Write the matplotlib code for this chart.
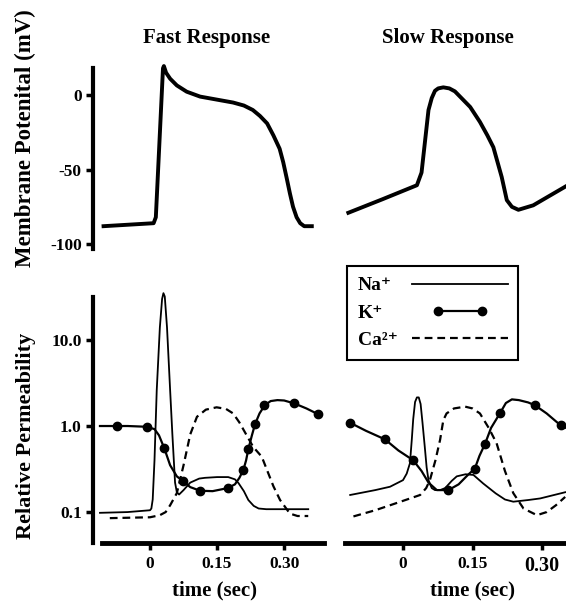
import numpy as np
import matplotlib
matplotlib.use('Agg')
import matplotlib.pyplot as plt
from matplotlib.lines import Line2D
from matplotlib.legend_handler import HandlerLine2D

plt.rcParams['font.family'] = ['Liberation Serif', 'DejaVu Serif']
plt.rcParams['font.weight'] = 'bold'
plt.rcParams['axes.titleweight'] = 'bold'
plt.rcParams['axes.labelweight'] = 'bold'

# ---- membrane potential (mV) vs time (s) ----
fast_ap_t = [-0.104, 0.008, 0.013, 0.029, 0.031, 0.036, 0.045, 0.060, 0.082, 0.112, 0.149,
             0.186, 0.210, 0.230, 0.246, 0.262, 0.276, 0.290, 0.298, 0.306, 0.313, 0.320,
             0.328, 0.336, 0.345, 0.362]
fast_ap_v = [-88, -86, -82, 18, 19.5, 15, 11, 6.5, 2.3, -1, -3,
             -5, -7, -10, -14, -19, -27, -36, -45, -56, -66, -75,
             -82, -86, -88, -88]

slow_ap_t = [-0.118, -0.045, 0.030, 0.040, 0.055, 0.062, 0.069, 0.076, 0.087, 0.100, 0.112,
             0.123, 0.145, 0.166, 0.182, 0.195, 0.213, 0.224, 0.235, 0.249, 0.281, 0.350]
slow_ap_v = [-79, -70, -60.5, -52, -10, -2, 2.9, 4.5, 5.2, 4.5, 2.5,
             -1, -8, -18, -27, -35, -55, -70.5, -75, -77, -74, -61.5]

# ---- relative permeability, fast response ----
na_fast_t = [-0.112, -0.05, 0.0, 0.003, 0.006, 0.010, 0.015, 0.022, 0.027, 0.030, 0.033,
             0.038, 0.045, 0.050, 0.056, 0.060, 0.065, 0.075, 0.090, 0.110, 0.123, 0.150,
             0.175, 0.190, 0.198, 0.210, 0.220, 0.232, 0.243, 0.260, 0.354]
na_fast_p = [0.098, 0.100, 0.105, 0.11, 0.14, 0.4, 2.6, 14, 30, 35, 32,
             14, 2.6, 0.8, 0.22, 0.17, 0.16, 0.18, 0.22, 0.245, 0.25, 0.255,
             0.255, 0.24, 0.217, 0.175, 0.138, 0.118, 0.11, 0.108, 0.108]

k_fast_t = [-0.112, -0.05, -0.007, 0.010, 0.020, 0.032, 0.045, 0.060, 0.073, 0.090, 0.112,
            0.140, 0.174, 0.190, 0.200, 0.209, 0.215, 0.220, 0.228, 0.235, 0.245, 0.257,
            0.270, 0.285, 0.300, 0.323, 0.350, 0.375]
k_fast_p = [1.0, 1.0, 0.98, 0.92, 0.78, 0.55, 0.35, 0.26, 0.23, 0.195, 0.177,
            0.175, 0.19, 0.21, 0.25, 0.31, 0.40, 0.54, 0.78, 1.05, 1.4, 1.75,
            1.95, 2.0, 1.98, 1.83, 1.6, 1.38]
k_fast_dot_t = [-0.075, -0.007, 0.032, 0.073, 0.112, 0.175, 0.209, 0.220, 0.235, 0.256, 0.323, 0.375]
k_fast_dot_p = [1.0, 0.98, 0.55, 0.23, 0.177, 0.19, 0.31, 0.54, 1.05, 1.75, 1.83, 1.38]

ca_fast_t = [-0.09, 0.0, 0.022, 0.035, 0.045, 0.060, 0.075, 0.090, 0.105, 0.125, 0.149,
             0.170, 0.186, 0.200, 0.215, 0.231, 0.250, 0.276, 0.291, 0.313, 0.330, 0.354]
ca_fast_p = [0.085, 0.087, 0.092, 0.10, 0.12, 0.166, 0.35, 0.8, 1.28, 1.55, 1.65,
             1.58, 1.4, 1.1, 0.8, 0.57, 0.44, 0.2, 0.138, 0.096, 0.09, 0.09]

# ---- relative permeability, slow response ----
na_slow_t = [-0.114, -0.06, -0.028, 0.0, 0.008, 0.015, 0.019, 0.022, 0.026, 0.030, 0.034,
             0.038, 0.042, 0.047, 0.051, 0.055, 0.062, 0.069, 0.080, 0.091, 0.105, 0.116,
             0.135, 0.152, 0.173, 0.200, 0.220, 0.238, 0.270, 0.296, 0.350]
na_slow_p = [0.158, 0.18, 0.197, 0.235, 0.28, 0.37, 0.7, 1.2, 1.9, 2.15, 2.15,
             1.8, 1.1, 0.57, 0.33, 0.235, 0.19, 0.18, 0.18, 0.19, 0.23, 0.26,
             0.275, 0.27, 0.215, 0.165, 0.14, 0.132, 0.138, 0.144, 0.17]

k_slow_t = [-0.114, -0.08, -0.039, -0.01, 0.022, 0.040, 0.055, 0.073, 0.098, 0.120, 0.140,
            0.155, 0.165, 0.177, 0.190, 0.209, 0.222, 0.235, 0.250, 0.270, 0.285, 0.310,
            0.340, 0.352]
k_slow_p = [1.09, 0.88, 0.70, 0.52, 0.40, 0.30, 0.22, 0.18, 0.18, 0.21, 0.27,
            0.32, 0.45, 0.62, 0.95, 1.4, 1.85, 2.04, 2.0, 1.88, 1.74, 1.4,
            1.02, 0.95]
k_slow_dot_t = [-0.114, -0.039, 0.022, 0.098, 0.155, 0.177, 0.209, 0.285, 0.340]
k_slow_dot_p = [1.09, 0.70, 0.40, 0.18, 0.32, 0.62, 1.4, 1.74, 1.02]

ca_slow_t = [-0.107, -0.06, -0.028, 0.0, 0.037, 0.050, 0.058, 0.070, 0.080, 0.087, 0.094,
             0.110, 0.134, 0.150, 0.166, 0.185, 0.202, 0.220, 0.238, 0.260, 0.289, 0.310,
             0.330, 0.350]
ca_slow_p = [0.089, 0.105, 0.12, 0.135, 0.158, 0.19, 0.235, 0.40, 0.69, 1.17, 1.4,
             1.6, 1.68, 1.6, 1.4, 0.95, 0.63, 0.3, 0.166, 0.11, 0.092, 0.10,
             0.12, 0.15]

mv_ticks = [0, -50, -100]
mv_labels = ['0', '-50', '-100']
perm_ticks = [0.1, 1.0, 10.0]
perm_labels = ['0.1', '1.0', '10.0']
time_ticks = [0, 0.15, 0.30]
time_labels = ['0', '0.15', '0.30']
ion_labels = ['Na\u207a', 'K\u207a', 'Ca\u00b2\u207a']

fig = plt.figure(figsize=(5.66, 6.01), dpi=100)
ax_tl = fig.add_axes([0.164, 0.584, 0.409, 0.316])
ax_tr = fig.add_axes([0.6097, 0.584, 0.3905, 0.316])
ax_bl = fig.add_axes([0.164, 0.0965, 0.409, 0.421])
ax_br = fig.add_axes([0.6097, 0.0965, 0.3905, 0.421])

for ax in (ax_tl, ax_tr, ax_bl, ax_br):
    ax.patch.set_visible(False)
    for s in ax.spines.values():
        s.set_visible(False)

ax_tl.set_xlim(-0.128, 0.39)
ax_bl.set_xlim(-0.128, 0.39)
ax_tr.set_xlim(-0.125, 0.352)
ax_br.set_xlim(-0.125, 0.352)
for ax in (ax_tl, ax_tr):
    ax.set_ylim(-104, 23.5)
for ax in (ax_bl, ax_br):
    ax.set_yscale('log')
    ax.set_ylim(0.0437, 38.1)

# action potentials
ax_tl.plot(fast_ap_t, fast_ap_v, color='black', lw=2.8, solid_joinstyle='round')
ax_tr.plot(slow_ap_t, slow_ap_v, color='black', lw=2.8, solid_joinstyle='round')

# permeabilities
dash = (3.5, 2.2)
for ax, na_t, na_p, k_t, k_p, kd_t, kd_p, ca_t, ca_p in [
        (ax_bl, na_fast_t, na_fast_p, k_fast_t, k_fast_p, k_fast_dot_t, k_fast_dot_p, ca_fast_t, ca_fast_p),
        (ax_br, na_slow_t, na_slow_p, k_slow_t, k_slow_p, k_slow_dot_t, k_slow_dot_p, ca_slow_t, ca_slow_p)]:
    ax.plot(na_t, na_p, color='black', lw=1.3, clip_on=False)
    ax.plot(k_t, k_p, color='black', lw=1.6, clip_on=False)
    ax.plot(kd_t, kd_p, 'o', color='black', ms=6, clip_on=False)
    ax.plot(ca_t, ca_p, color='black', lw=1.6, dashes=dash, clip_on=False)

# axes styling
ax_tl.spines['left'].set_visible(True)
ax_tl.spines['left'].set_linewidth(3)
ax_tl.spines['left'].set_bounds(-103, 18.5)
ax_tl.set_yticks(mv_ticks)
ax_tl.set_yticklabels(mv_labels)
ax_tl.set_xticks([])
ax_tl.tick_params(axis='y', length=5, width=2.5, labelsize=12.5, pad=3)
ax_tl.set_ylabel('Membrane Potenital (mV)', fontsize=16.5)
ax_tl.yaxis.set_label_coords(-0.245, 0.59)
ax_tl.set_title('Fast Response', fontsize=15, pad=12, x=0.49)

ax_tr.set_xticks([])
ax_tr.set_yticks([])
ax_tr.set_title('Slow Response', fontsize=15, pad=12, x=0.466)

ax_bl.spines['left'].set_visible(True)
ax_bl.spines['left'].set_linewidth(3)
ax_bl.spines['left'].set_bounds(0.0437, 31.6)
ax_bl.set_yticks(perm_ticks)
ax_bl.set_yticklabels(perm_labels)
ax_bl.yaxis.set_minor_locator(matplotlib.ticker.NullLocator())
ax_bl.tick_params(axis='y', length=5, width=2.5, labelsize=12.5, pad=3)
ax_bl.set_ylabel('Relative Permeability', fontsize=16)
ax_bl.yaxis.set_label_coords(-0.245, 0.423)

for ax, lo, hi in [(ax_bl, -0.107, 0.39), (ax_br, -0.125, 0.352)]:
    ax.spines['bottom'].set_visible(True)
    ax.spines['bottom'].set_linewidth(3.5)
    ax.spines['bottom'].set_bounds(lo, hi)
    ax.set_xticks(time_ticks)
    ax.set_xticklabels(time_labels)
    ax.tick_params(axis='x', length=5, width=2.5, labelsize=12.5, pad=4)
    ax.set_xlabel('time (sec)', fontsize=15)

ax_br.set_yticks([])
ax_br.yaxis.set_minor_locator(matplotlib.ticker.NullLocator())
ax_br.get_xticklabels()[2].set_fontsize(14.5)
ax_bl.xaxis.set_label_coords(0.525, -0.148)
ax_br.xaxis.set_label_coords(0.575, -0.148)

# legend
handles = [Line2D([], [], color='black', lw=1.3),
           Line2D([], [], color='black', lw=1.6, marker='o', ms=6),
           Line2D([], [], color='black', lw=1.6, dashes=dash)]
leg = fig.legend(handles, ion_labels, loc='upper left', bbox_to_anchor=(0.613, 0.5574),
                 fontsize=14, markerfirst=False, handlelength=4.9, handletextpad=0.77,
                 labelspacing=0.5, borderpad=0.55, borderaxespad=0, fancybox=False,
                 framealpha=1, edgecolor='black',
                 handler_map={handles[1]: HandlerLine2D(numpoints=2, marker_pad=1.3)})
leg.get_frame().set_linewidth(1.5)

# left-align the legend labels while keeping the handles in one column
renderer = fig.canvas.get_renderer()
widths = [t.get_window_extent(renderer).width for t in leg.get_texts()]
rows = leg._legend_handle_box.get_children()[0].get_children()
for row, w in zip(rows, widths):
    row.sep = row.sep + (max(widths) - w) * 72.0 / fig.dpi

fig.savefig('out.png', dpi=100)
